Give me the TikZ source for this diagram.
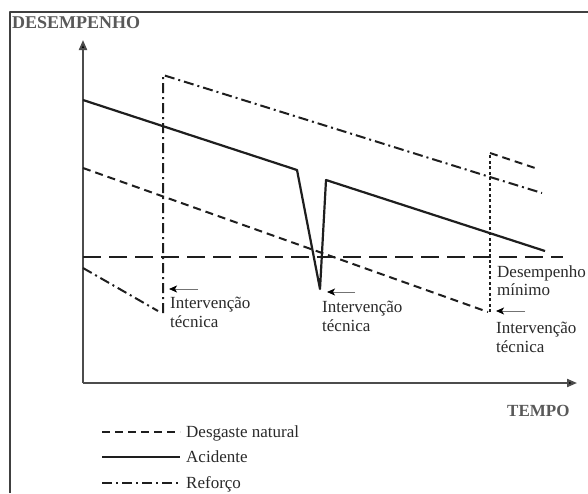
\documentclass[tikz,border=0pt]{standalone}
\usepackage{fontspec}
\setmainfont{Liberation Serif}
\usetikzlibrary{arrows.meta}
\definecolor{ink}{HTML}{1E1E1E}
\definecolor{txt}{HTML}{2A2A2A}
\begin{document}
\begin{tikzpicture}[x=1pt,y=-1pt,line join=round,
  axisline/.style={line width=2pt,draw=black!70,-{Triangle[length=10pt,width=8pt,fill=black]}},
  acid/.style={line width=2.2pt,draw=ink},
  desg/.style={line width=2pt,draw=ink,dash pattern=on 8pt off 5pt},
  minline/.style={line width=2.2pt,draw=ink,dash pattern=on 18pt off 8pt},
  refo/.style={line width=2pt,draw=ink,dash pattern=on 10pt off 4pt on 2pt off 4pt},
  vdot/.style={line width=1.8pt,draw=ink,dash pattern=on 3pt off 2.5pt},
  lblarrow/.style={line width=1pt,draw=black!55,-{Stealth[length=8pt,width=7pt,inset=2pt,color=black]}},
  lbl/.style={inner sep=0pt,anchor=base west,text=txt,font=\fontsize{17}{20}\selectfont},
  title/.style={inner sep=0pt,anchor=base west,text=black!65,font=\bfseries\fontsize{18}{20}\selectfont}]
\useasboundingbox (0,0) rectangle (588,493);
\fill[white] (0,0) rectangle (588,493);
% frame
\draw[line width=1.6pt,black!75] (10,493) -- (10,12) -- (588,12);
% axes
\coordinate (O) at (83,383);
\coordinate (Ytop) at (83,40);
\coordinate (Xend) at (577,383);
\draw[axisline] (O) -- (Ytop);
\draw[axisline] (O) -- (Xend);
% acidente
\coordinate (a1) at (83,100);
\coordinate (a2) at (297,170);
\coordinate (a3) at (320,289);
\coordinate (a4) at (326,180);
\coordinate (a5) at (545,251);
\draw[acid] (a1) -- (a2) -- (a3) -- (a4) -- (a5);
% desgaste natural
\coordinate (d1) at (83,168);
\coordinate (d2) at (488,312);
\draw[desg] (d1) -- (d2);
% desempenho minimo
\coordinate (m1) at (83,257);
\coordinate (m2) at (563,257);
\draw[minline] (m1) -- (m2);
% reforco
\coordinate (r1) at (83,268);
\coordinate (r2) at (158,311);
\coordinate (r3) at (163,313);
\coordinate (r4) at (163,75);
\coordinate (r5) at (490,177);
\coordinate (r6) at (542,193);
\draw[refo] (r1) -- (r2);
\draw[refo] (r3) -- (r4) -- (r5) -- (r6);
% second intervention
\coordinate (v1) at (490,312);
\coordinate (v2) at (490,153);
\coordinate (v3) at (538,169);
\draw[vdot] (v1) -- (v2);
\draw[desg] (v2) -- (v3);
% label arrows
\coordinate (t1) at (198,289); \coordinate (h1) at (169,289);
\coordinate (t2) at (355,292); \coordinate (h2) at (327,292);
\coordinate (t3) at (525,311); \coordinate (h3) at (496,311);
\draw[lblarrow] (t1) -- (h1);
\draw[lblarrow] (t2) -- (h2);
\draw[lblarrow] (t3) -- (h3);
% labels
\node[lbl] (i1a) at (170,308) {Intervenção};
\node[lbl] (i1b) at (170,327) {técnica};
\node[lbl] (i2a) at (322,312) {Intervenção};
\node[lbl] (i2b) at (322,331) {técnica};
\node[lbl] (dm1) at (497,277) {Desempenho};
\node[lbl] (dm2) at (497,295) {mínimo};
\node[lbl] (i3a) at (496,333) {Intervenção};
\node[lbl] (i3b) at (496,352) {técnica};
\node[title] (yl) at (12,28) {DESEMPENHO};
\node[title,font=\bfseries\fontsize{17}{20}\selectfont] (xl) at (507,416) {TEMPO};
% legend
\coordinate (L1a) at (102,432); \coordinate (L1b) at (180,432);
\coordinate (L2a) at (102,457); \coordinate (L2b) at (180,457);
\coordinate (L3a) at (102,483); \coordinate (L3b) at (180,483);
\draw[desg] (L1a) -- (L1b);
\draw[acid] (L2a) -- (L2b);
\draw[refo] (L3a) -- (L3b);
\node[lbl] (lg1) at (186,437) {Desgaste natural};
\node[lbl] (lg2) at (186,462) {Acidente};
\node[lbl] (lg3) at (186,488) {Reforço};
\end{tikzpicture}
\end{document}
